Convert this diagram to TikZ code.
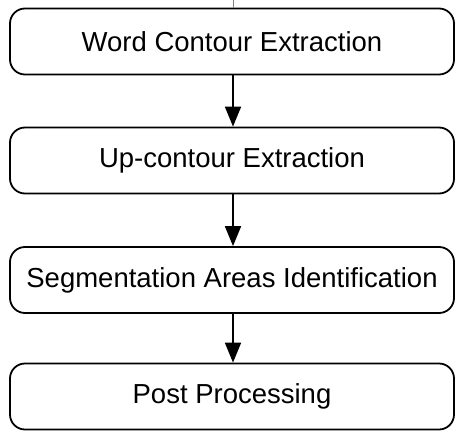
\documentclass[tikz,border=0pt]{standalone}
\usepackage{fontspec}
\setmainfont{Liberation Sans}
\usetikzlibrary{arrows.meta}
\begin{document}
\begin{tikzpicture}[x=1pt,y=-1pt,
  stagebox/.style={draw=black, line width=1.8pt, rounded corners=15pt,
    minimum width=444pt, minimum height=66pt, inner sep=0pt,
    font=\fontsize{27.5}{30}\selectfont},
  flowarrow/.style={line width=1.8pt, -{Triangle[length=20pt,width=16pt]}}]
  \useasboundingbox (0,0) rectangle (455,431);
  \node[stagebox] (s1) at (232,41.5) {Word Contour Extraction};
  \node[stagebox] (s2) at (232,160.5) {Up-contour Extraction};
  \node[stagebox] (s3) at (232,280) {Segmentation Areas Identification};
  \node[stagebox] (s4) at (232,396.5) {Post Processing};
  \coordinate (in) at (233,0);
  \draw[line width=0.6pt, gray] (in) -- (s1.north -| in);
  \draw[flowarrow] (s1.south -| in) -- (s2.north -| in);
  \draw[flowarrow] (s2.south -| in) -- (s3.north -| in);
  \draw[flowarrow] (s3.south -| in) -- (s4.north -| in);
\end{tikzpicture}
\end{document}
